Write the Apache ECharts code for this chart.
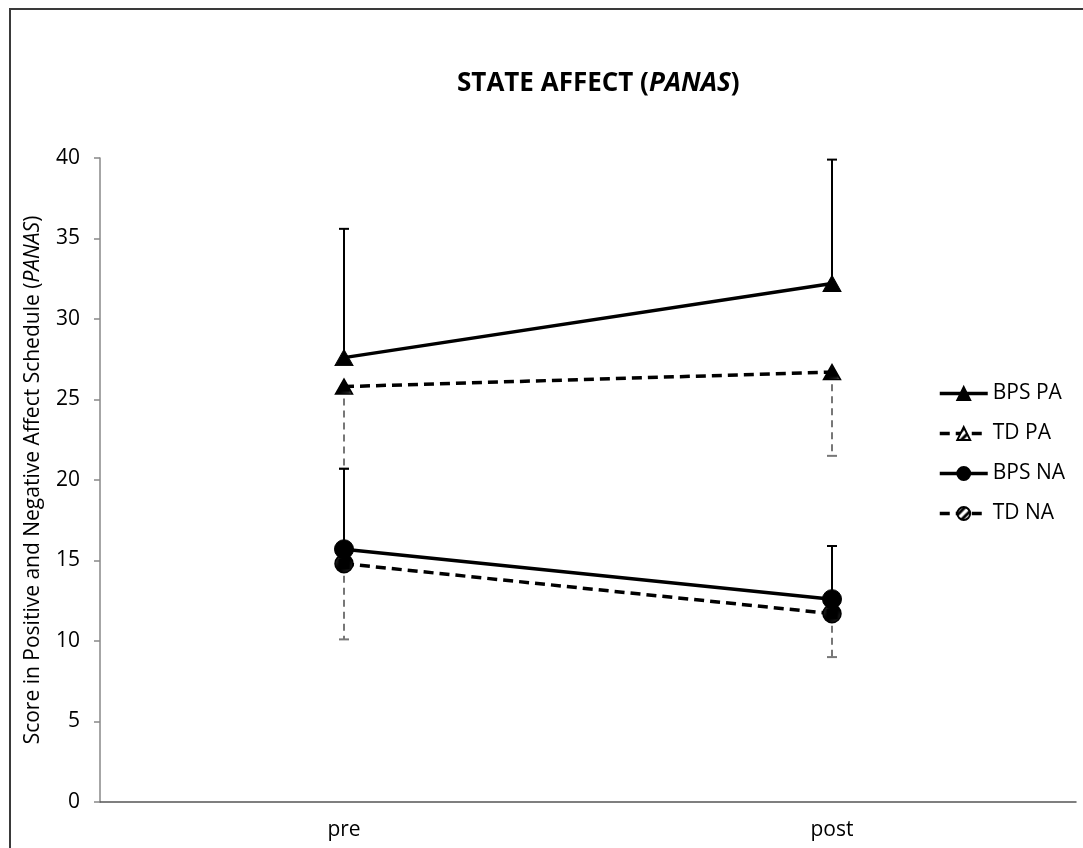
<!DOCTYPE html>
<html>
<head>
<meta charset="utf-8">
<script src="https://cdn.jsdelivr.net/npm/echarts@6/dist/echarts.min.js"></script>
<style>
html,body{margin:0;padding:0;background:#fff;}
#main{width:1083px;height:848px;}
</style>
</head>
<body>
<div id="main"></div>
<script>
const categories = ['pre', 'post'];
const seriesNames = ['BPS PA', 'TD PA', 'BPS NA', 'TD NA'];
const bpsPA = [27.6, 32.2];
const tdPA = [25.8, 26.7];
const bpsNA = [15.7, 12.6];
const tdNA = [14.8, 11.7];
const bpsPAErrHigh = [35.6, 39.9];
const tdPAErrLow = [20.7, 21.5];
const bpsNAErrHigh = [20.7, 15.9];
const tdNAErrLow = [10.1, 9.0];
const yTicks = { min: 0, max: 40, interval: 5 };

const FONT = 'Open Sans';

function makeHatch() {
  const s = 9;
  const c = document.createElement('canvas');
  c.width = s; c.height = s;
  const g = c.getContext('2d');
  g.fillStyle = '#fff';
  g.fillRect(0, 0, s, s);
  g.strokeStyle = '#000';
  g.lineWidth = 3;
  g.beginPath();
  g.moveTo(-2, s + 2); g.lineTo(s + 2, -2);
  g.moveTo(-s - 2, s + 2); g.lineTo(2, -2);
  g.moveTo(-2, 2 * s + 2); g.lineTo(2 * s + 2, -2);
  g.stroke();
  return c;
}
const hatch = { image: makeHatch(), repeat: 'repeat' };

function errData(vals, ends) {
  return vals.map((v, i) => [i, v, ends[i]]);
}
function errSeries(vals, ends, dashed) {
  return {
    type: 'custom',
    silent: true,
    z: 1,
    data: errData(vals, ends),
    renderItem: function (params, api) {
      const p0 = api.coord([api.value(0), api.value(1)]);
      const p1 = api.coord([api.value(0), api.value(2)]);
      const col = dashed ? '#777' : '#000';
      return {
        type: 'group',
        children: [
          { type: 'line', shape: { x1: p0[0], y1: p0[1], x2: p1[0], y2: p1[1] },
            style: { stroke: col, lineWidth: 2, lineDash: dashed ? [7, 5] : null } },
          { type: 'line', shape: { x1: p1[0] - 5, y1: p1[1], x2: p1[0] + 5, y2: p1[1] },
            style: { stroke: col, lineWidth: 2 } }
        ]
      };
    }
  };
}

const chart = echarts.init(document.getElementById('main'), null, { renderer: 'canvas' });
const option = {
  animation: false,
  backgroundColor: '#fff',
  textStyle: { fontFamily: FONT },
  graphic: [{
    type: 'rect',
    shape: { x: 10, y: 9, width: 1200, height: 1000 },
    style: { fill: 'none', stroke: '#3a3a3a', lineWidth: 2 },
    silent: true, z: -10
  }],
  title: {
    text: '{a|STATE AFFECT (}{b|PANAS}{a|)}',
    left: 452, top: 66,
    textStyle: {
      rich: {
        a: { fontFamily: FONT, fontWeight: 'bold', fontSize: 26, color: '#000' },
        b: { fontFamily: FONT, fontWeight: 'bold', fontStyle: 'italic', fontSize: 26, color: '#000' }
      }
    }
  },
  legend: {
    orient: 'vertical',
    left: 933, top: 378,
    itemWidth: 48, itemHeight: 16,
    itemGap: 19,
    data: seriesNames,
    lineStyle: { width: 3.5 },
    textStyle: { fontFamily: FONT, fontSize: 21, color: '#000' }
  },
  grid: { left: 100, right: 7, top: 158, bottom: 46 },
  xAxis: {
    type: 'category',
    data: categories,
    boundaryGap: true,
    axisLine: { lineStyle: { color: '#555', width: 1.5 } },
    axisTick: { show: false },
    axisLabel: { fontFamily: FONT, fontSize: 21, color: '#000', margin: 18 }
  },
  yAxis: {
    type: 'value',
    min: yTicks.min, max: yTicks.max, interval: yTicks.interval,
    name: '{a|Score in Positive and Negative Affect Schedule (}{b|PANAS}{a|)}',
    nameLocation: 'middle',
    nameGap: 56,
    nameRotate: 90,
    nameTextStyle: {
      rich: {
        a: { fontFamily: FONT, fontSize: 21, color: '#000' },
        b: { fontFamily: FONT, fontSize: 21, fontStyle: 'italic', color: '#000' }
      }
    },
    axisLine: { show: true, lineStyle: { color: '#888', width: 1.5 } },
    axisTick: { show: true, length: 6, lineStyle: { color: '#888', width: 1.5 } },
    splitLine: { show: false },
    axisLabel: { fontFamily: FONT, fontSize: 21, color: '#000', margin: 20 }
  },
  series: [
    errSeries(bpsPA, bpsPAErrHigh, false),
    errSeries(tdPA, tdPAErrLow, true),
    errSeries(bpsNA, bpsNAErrHigh, false),
    errSeries(tdNA, tdNAErrLow, true),
    {
      name: seriesNames[0], type: 'line', data: bpsPA, z: 5,
      symbol: 'triangle', symbolSize: [18, 16],
      lineStyle: { color: '#000', width: 3.5 },
      itemStyle: { color: '#000', borderColor: '#000', borderWidth: 1 }
    },
    {
      name: seriesNames[1], type: 'line', data: tdPA, z: 4,
      symbol: 'triangle', symbolSize: [17, 15],
      lineStyle: { color: '#000', width: 3.5, type: [10, 6] },
      itemStyle: { color: hatch, borderColor: '#000', borderWidth: 1.5 }
    },
    {
      name: seriesNames[2], type: 'line', data: bpsNA, z: 5,
      symbol: 'circle', symbolSize: 19,
      lineStyle: { color: '#000', width: 3.5 },
      itemStyle: { color: '#000', borderColor: '#000', borderWidth: 1 }
    },
    {
      name: seriesNames[3], type: 'line', data: tdNA, z: 4,
      symbol: 'circle', symbolSize: 18,
      lineStyle: { color: '#000', width: 3.5, type: [10, 6] },
      itemStyle: { color: hatch, borderColor: '#000', borderWidth: 1.5 }
    }
  ]
};
chart.setOption(option);
</script>
</body>
</html>
